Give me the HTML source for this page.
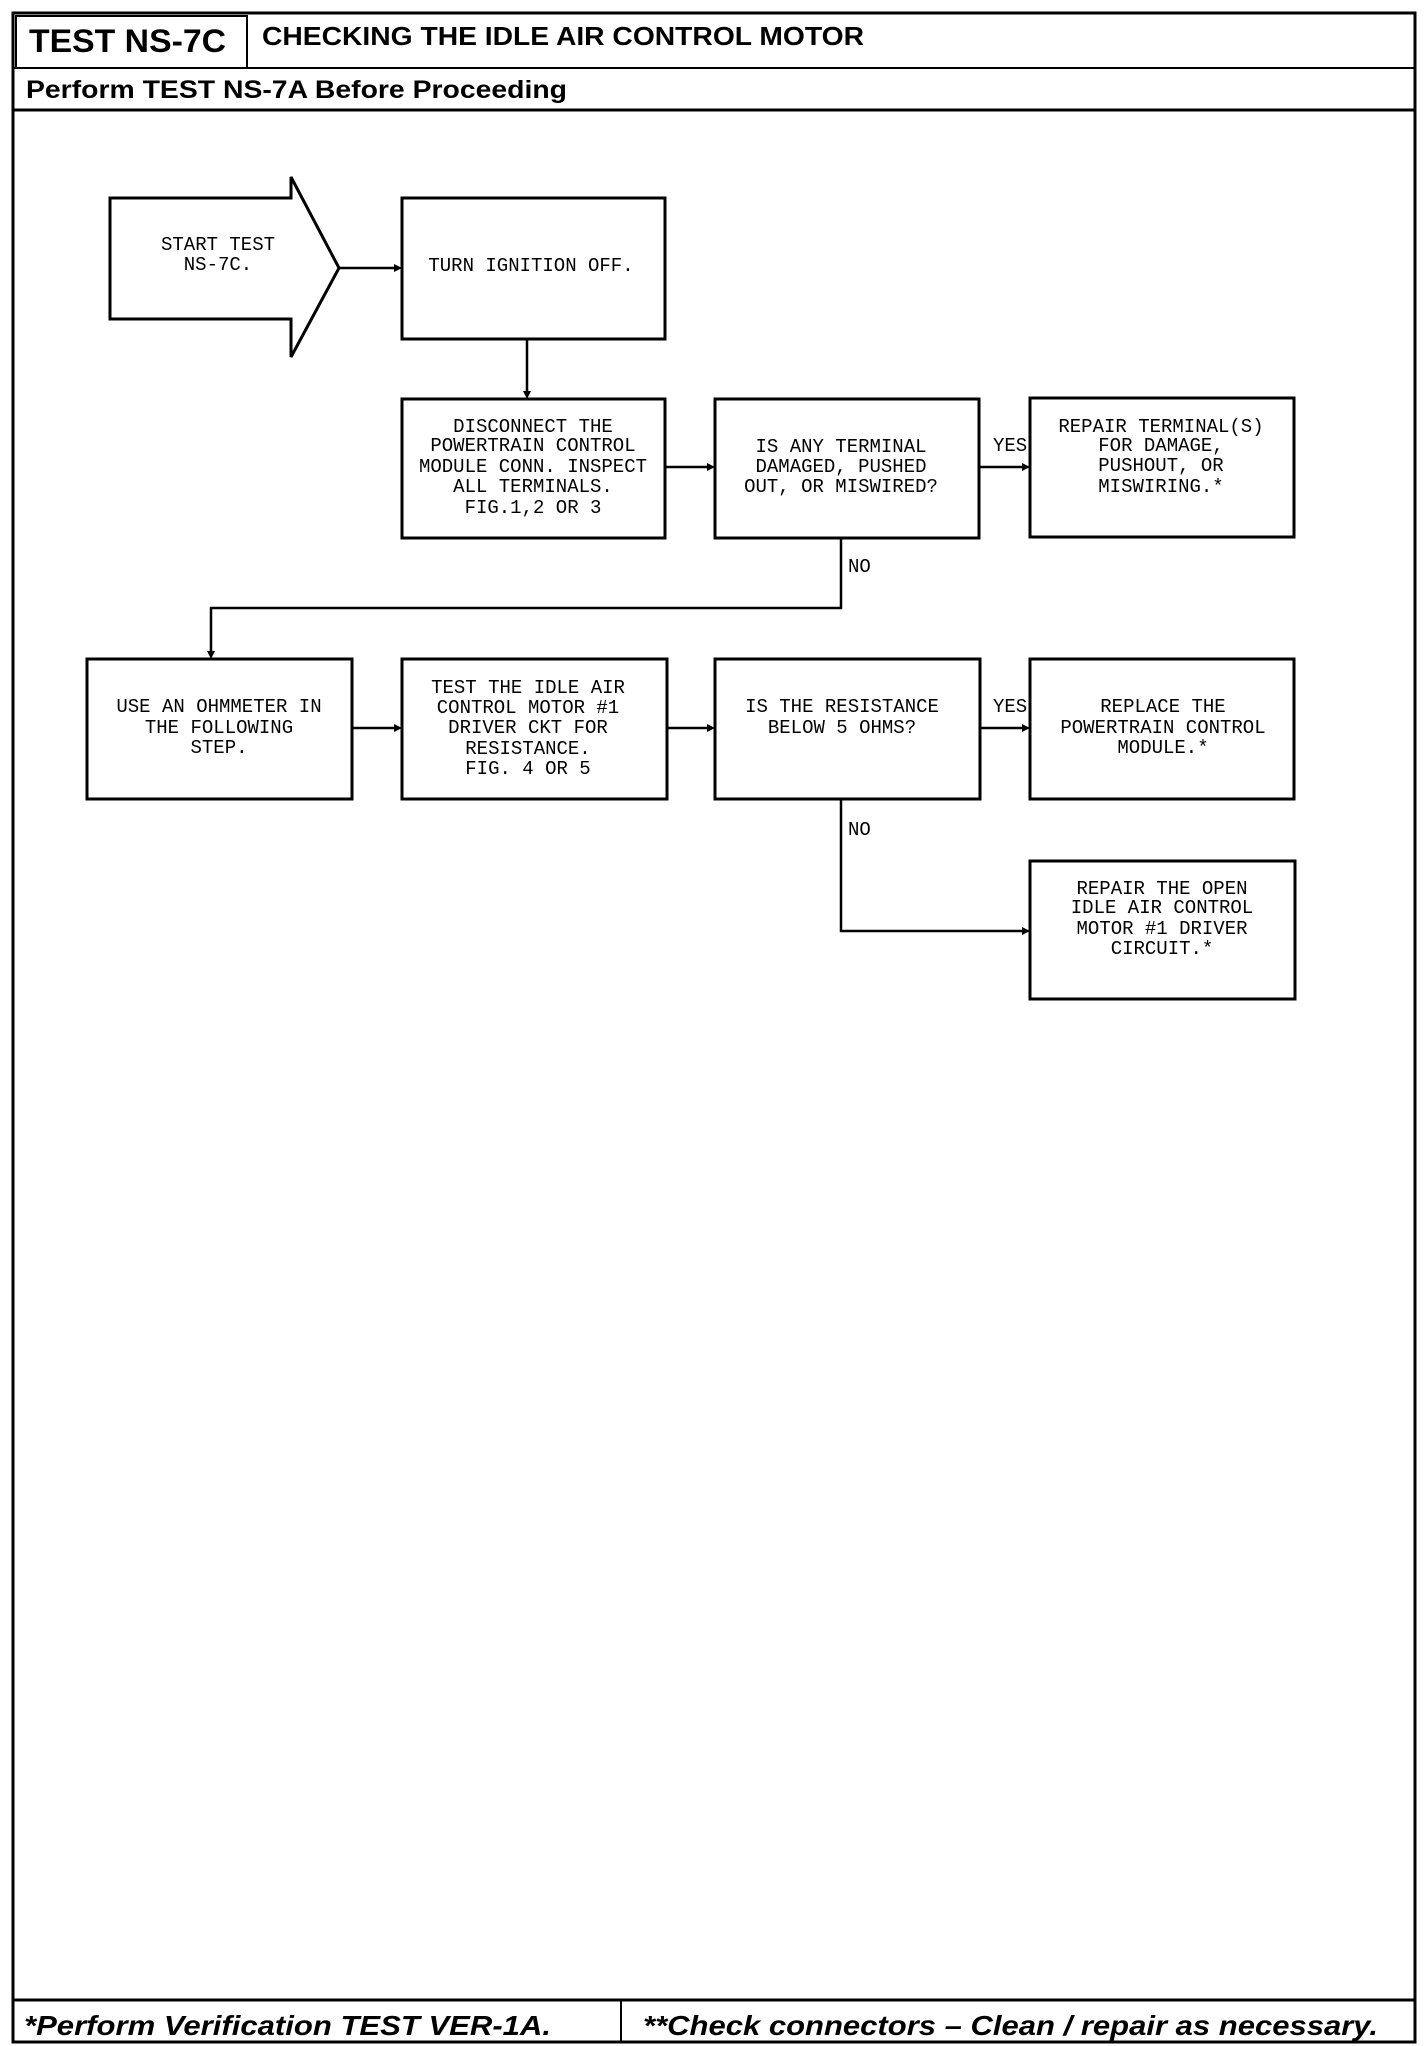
<!DOCTYPE html>
<html><head><meta charset="utf-8"><style>
html,body{margin:0;padding:0;background:#fff;}
svg{display:block;}
.b{font-family:"Liberation Mono",monospace;font-size:19px;fill:#000;}
</style></head><body>
<svg width="1424" height="2046" viewBox="0 0 1424 2046" xmlns="http://www.w3.org/2000/svg">
<g fill="none" stroke="#000">
<rect x="13" y="13" width="1402" height="2029" stroke-width="3"/>
<line x1="13" y1="68" x2="1415" y2="68" stroke-width="2"/>
<rect x="16" y="16" width="231" height="52" stroke-width="2"/>
<line x1="13" y1="110" x2="1415" y2="110" stroke-width="3"/>
<line x1="13" y1="2000" x2="1415" y2="2000" stroke-width="3"/>
<line x1="621" y1="2000" x2="621" y2="2042" stroke-width="2"/>
<!-- start arrow -->
<polygon points="110,198 291,198 291,177 339,268 291,357 291,319 110,319" stroke-width="3"/>
<!-- boxes -->
<g stroke-width="3">
<rect x="402" y="198" width="263" height="141"/>
<rect x="402" y="399" width="263" height="139"/>
<rect x="715" y="399" width="264" height="139"/>
<rect x="1030" y="398" width="264" height="139"/>
<rect x="87" y="659" width="265" height="140"/>
<rect x="402" y="659" width="265" height="140"/>
<rect x="715" y="659" width="265" height="140"/>
<rect x="1030" y="659" width="264" height="140"/>
<rect x="1030" y="861" width="265" height="138"/>
</g>
<g stroke-width="2.5">
<line x1="339" y1="268" x2="396" y2="268"/>
<line x1="527" y1="339" x2="527" y2="393"/>
<line x1="665" y1="467" x2="709" y2="467"/>
<line x1="979" y1="467" x2="1024" y2="467"/>
<polyline points="841,538 841,608 211,608 211,653"/>
<line x1="352" y1="728" x2="396" y2="728"/>
<line x1="667" y1="728" x2="709" y2="728"/>
<line x1="980" y1="728" x2="1024" y2="728"/>
<polyline points="841,799 841,931 1024,931"/>
</g>
</g>
<g fill="#000">
<polygon points="402,268 394,264 394,272"/>
<polygon points="527,399 523,391 531,391"/>
<polygon points="715,467 707,463 707,471"/>
<polygon points="1030,467 1022,463 1022,471"/>
<polygon points="211,659 207,651 215,651"/>
<polygon points="402,728 394,724 394,732"/>
<polygon points="715,728 707,724 707,732"/>
<polygon points="1030,728 1022,724 1022,732"/>
<polygon points="1030,931 1022,927 1022,935"/>
</g>
<g font-family="Liberation Sans,sans-serif" font-weight="bold" fill="#000">
<text x="29" y="52" font-size="32" textLength="197" lengthAdjust="spacingAndGlyphs">TEST NS-7C</text>
<text x="262" y="45" font-size="26" textLength="602" lengthAdjust="spacingAndGlyphs">CHECKING THE IDLE AIR CONTROL MOTOR</text>
<text x="26" y="98" font-size="25" textLength="541" lengthAdjust="spacingAndGlyphs">Perform TEST NS-7A Before Proceeding</text>
<text x="24" y="2035" font-size="28" font-style="italic" textLength="527" lengthAdjust="spacingAndGlyphs">*Perform Verification TEST VER-1A.</text>
<text x="643" y="2035" font-size="28" font-style="italic" textLength="735" lengthAdjust="spacingAndGlyphs">**Check connectors – Clean / repair as necessary.</text>
</g>
<g class="b" text-anchor="middle" dominant-baseline="central">
<text x="218" y="245">START TEST</text><text x="218" y="265">NS-7C.</text>
<text x="531" y="266">TURN IGNITION OFF.</text>
<text x="533" y="427">DISCONNECT THE</text><text x="533" y="446">POWERTRAIN CONTROL</text><text x="533" y="467">MODULE CONN. INSPECT</text><text x="533" y="487">ALL TERMINALS.</text><text x="533" y="508">FIG.1,2 OR 3</text>
<text x="841" y="447">IS ANY TERMINAL</text><text x="841" y="467">DAMAGED, PUSHED</text><text x="841" y="487">OUT, OR MISWIRED?</text>
<text x="1161" y="427">REPAIR TERMINAL(S)</text><text x="1161" y="446">FOR DAMAGE,</text><text x="1161" y="466">PUSHOUT, OR</text><text x="1161" y="487">MISWIRING.*</text>
<text x="219" y="707">USE AN OHMMETER IN</text><text x="219" y="728">THE FOLLOWING</text><text x="219" y="748">STEP.</text>
<text x="528" y="688">TEST THE IDLE AIR</text><text x="528" y="708">CONTROL MOTOR #1</text><text x="528" y="728">DRIVER CKT FOR</text><text x="528" y="749">RESISTANCE.</text><text x="528" y="769">FIG. 4 OR 5</text>
<text x="842" y="707">IS THE RESISTANCE</text><text x="842" y="728">BELOW 5 OHMS?</text>
<text x="1163" y="707">REPLACE THE</text><text x="1163" y="728">POWERTRAIN CONTROL</text><text x="1163" y="748">MODULE.*</text>
<text x="1162" y="889">REPAIR THE OPEN</text><text x="1162" y="908">IDLE AIR CONTROL</text><text x="1162" y="929">MOTOR #1 DRIVER</text><text x="1162" y="949">CIRCUIT.*</text>
</g>
<g class="b" dominant-baseline="central">
<text x="993" y="446">YES</text><text x="993" y="707">YES</text>
<text x="848" y="567">NO</text><text x="848" y="830">NO</text>
</g>
</svg>
</body></html>
